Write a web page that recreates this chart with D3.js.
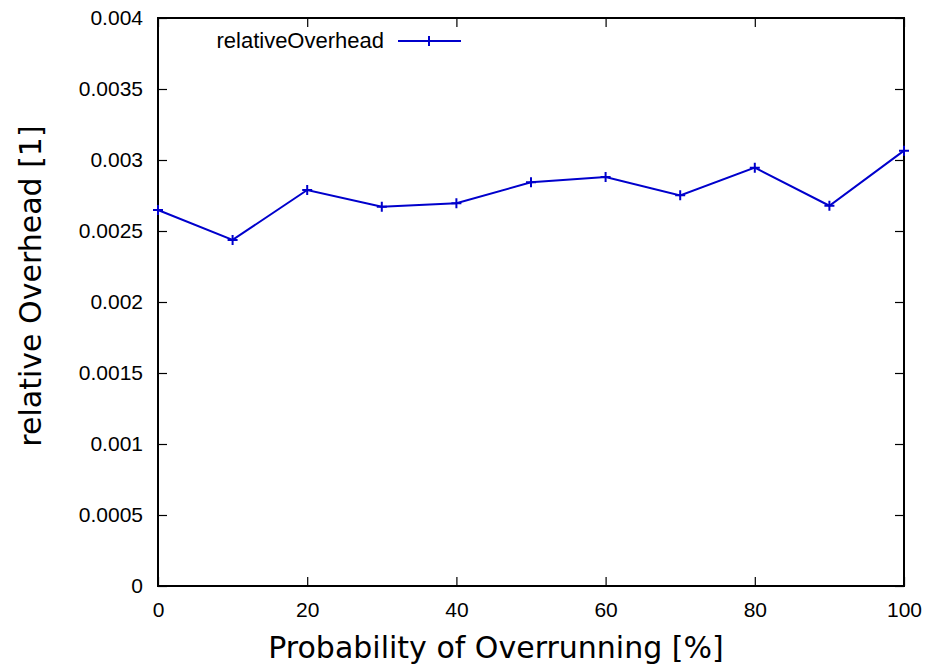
<!DOCTYPE html>
<html>
<head>
<meta charset="utf-8">
<script src="https://cdn.jsdelivr.net/npm/d3@7"></script>
<style>
  body { margin: 0; background: #fff; }
  .tick text { font-family: "Liberation Sans", Arial, sans-serif; font-size: 21px; fill: #000; }
</style>
</head>
<body>
<div class="chart"></div>
<script>
var probabilities = [0, 10, 20, 30, 40, 50, 60, 70, 80, 90, 100];
var relativeOverhead = [0.002648, 0.002437, 0.002789, 0.002671, 0.002695, 0.002843, 0.00288, 0.002751, 0.002946, 0.002678, 0.003066];
var xTicks = [0, 20, 40, 60, 80, 100];
var yTicks = [0, 0.0005, 0.001, 0.0015, 0.002, 0.0025, 0.003, 0.0035, 0.004];
var seriesName = "relativeOverhead";

var width = 929, height = 669;
var plotLeft = 158, plotRight = 904, plotTop = 18, plotBottom = 586;
var lineColor = "#0000cc";

var svg = d3.select(".chart").append("svg")
  .attr("width", width).attr("height", height);

var x = d3.scaleLinear().domain([0, 100]).range([plotLeft, plotRight]);
var y = d3.scaleLinear().domain([0, 0.004]).range([plotBottom, plotTop]);

var tickLen = 9;

// bottom axis with labels
svg.append("g").attr("transform", "translate(0," + plotBottom + ")")
  .call(d3.axisBottom(x).tickValues(xTicks).tickSize(-tickLen).tickPadding(16).tickFormat(d3.format("d")))
  .call(function(g) { g.select(".domain").remove(); });
// top mirror ticks
svg.append("g").attr("transform", "translate(0," + plotTop + ")")
  .call(d3.axisTop(x).tickValues(xTicks).tickSize(-tickLen).tickFormat(""))
  .call(function(g) { g.select(".domain").remove(); });
// left axis
svg.append("g").attr("transform", "translate(" + plotLeft + ",0)")
  .call(d3.axisLeft(y).tickValues(yTicks).tickSize(-tickLen).tickPadding(15).tickFormat(function(d) { return d === 0 ? "0" : +d.toFixed(4) + ""; }))
  .call(function(g) { g.select(".domain").remove(); });
// right mirror ticks
svg.append("g").attr("transform", "translate(" + plotRight + ",0)")
  .call(d3.axisRight(y).tickValues(yTicks).tickSize(-tickLen).tickFormat(""))
  .call(function(g) { g.select(".domain").remove(); });

svg.selectAll(".tick line").attr("stroke", "#000").attr("stroke-width", 1.2);

// frame
svg.append("rect")
  .attr("x", plotLeft).attr("y", plotTop)
  .attr("width", plotRight - plotLeft).attr("height", plotBottom - plotTop)
  .attr("fill", "none").attr("stroke", "#000").attr("stroke-width", 2);

// line
var line = d3.line()
  .x(function(d, i) { return x(probabilities[i]); })
  .y(function(d) { return y(d); });

svg.append("path")
  .datum(relativeOverhead)
  .attr("d", line)
  .attr("fill", "none")
  .attr("stroke", lineColor)
  .attr("stroke-width", 2);

var cross = "M-5,0H5M0,-5V5";
svg.selectAll(".pt")
  .data(relativeOverhead)
  .enter().append("path")
  .attr("class", "pt")
  .attr("transform", function(d, i) { return "translate(" + x(probabilities[i]) + "," + y(d) + ")"; })
  .attr("d", cross)
  .attr("stroke", lineColor)
  .attr("stroke-width", 2);

// legend
svg.append("text")
  .attr("x", 384).attr("y", 48)
  .attr("text-anchor", "end")
  .style("font-family", "Liberation Sans, Arial, sans-serif")
  .style("font-size", "22px")
  .text(seriesName);
svg.append("line")
  .attr("x1", 398).attr("x2", 461).attr("y1", 41).attr("y2", 41)
  .attr("stroke", lineColor).attr("stroke-width", 2);
svg.append("path")
  .attr("transform", "translate(429,41)")
  .attr("d", cross)
  .attr("stroke", lineColor).attr("stroke-width", 2);

// axis titles
svg.append("text")
  .attr("x", 496).attr("y", 658)
  .attr("text-anchor", "middle")
  .style("font-family", "DejaVu Sans, sans-serif")
  .style("font-size", "30px")
  .text("Probability of Overrunning [%]");

svg.append("text")
  .attr("transform", "translate(41,286) rotate(-90)")
  .attr("text-anchor", "middle")
  .style("font-family", "DejaVu Sans, sans-serif")
  .style("font-size", "30px")
  .text("relative Overhead [1]");
</script>
</body>
</html>
